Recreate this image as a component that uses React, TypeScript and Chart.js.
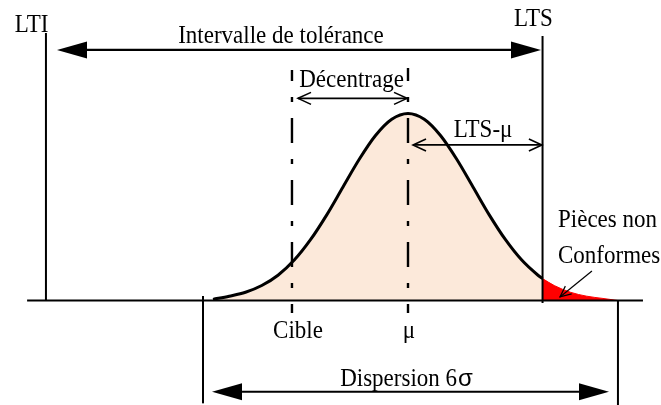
import React, { useEffect, useRef } from "react";
import { Chart, registerables } from "chart.js";
Chart.register(...registerables);

// Normal curve (x in sigma units from the mean, y relative to peak height)
const curveX = [-3.0, -2.75, -2.5, -2.25, -2.0, -1.75, -1.5, -1.25, -1.0, -0.75, -0.5, -0.25, 0, 0.25, 0.5, 0.75, 1.0, 1.25, 1.5, 1.75, 2.0, 2.07];
const curveY = [0.006, 0.023, 0.044, 0.08, 0.135, 0.216, 0.325, 0.458, 0.607, 0.755, 0.882, 0.969, 1.0, 0.969, 0.882, 0.755, 0.607, 0.458, 0.325, 0.216, 0.135, 0.117];
// Non-conforming tail beyond LTS
const tailX = [2.07, 2.25, 2.5, 2.75, 3.0, 3.23];
const tailY = [0.117, 0.08, 0.044, 0.023, 0.011, 0.0];

// Key positions (sigma units)
const LTI = -5.57;
const LTS = 2.07;
const CIBLE = -1.785;
const MU = 0;
const DISP_LEFT = -3.154;
const DISP_RIGHT = 3.23;
const BASE_LEFT = -5.86;
const BASE_RIGHT = 3.615;

// Text labels
const labelTexts = ["LTI", "LTS", "Intervalle de tolérance", "Décentrage", "LTS-μ", "Cible", "μ", "Pièces non", "Conformes"];
const labelX = [-5.79, 1.93, -1.954, -0.869, 1.154, -1.692, 0.015, 2.308, 2.308];
const labelY = [1.436, 1.468, 1.377, 1.142, 0.874, -0.2005, -0.2005, 0.393, 0.2005];
const labelAlign = ["center", "center", "center", "center", "center", "center", "center", "left", "left"];
const dispersionText = "Dispersion 6";
const sigmaText = "σ";

const annotPlugin = {
  id: "annot",
  afterDatasetsDraw(chart: any) {
    const { ctx, scales } = chart;
    const xs = scales.x, ys = scales.y;
    const px = (v: number) => xs.getPixelForValue(v);
    const py = (v: number) => ys.getPixelForValue(v);
    ctx.save();
    ctx.strokeStyle = "#000";
    ctx.fillStyle = "#000";
    ctx.lineCap = "butt";

    const seg = (x1: number, y1: number, x2: number, y2: number, w: number, dash: number[] = [], off = 0) => {
      ctx.save();
      ctx.lineWidth = w;
      ctx.setLineDash(dash);
      ctx.lineDashOffset = off;
      ctx.beginPath();
      ctx.moveTo(px(x1), py(y1));
      ctx.lineTo(px(x2), py(y2));
      ctx.stroke();
      ctx.restore();
    };
    // arrow head at pixel tip, pointing along angle ang (radians)
    const head = (tx: number, ty: number, ang: number, len: number, half: number, filled: boolean, w = 1.5) => {
      const bx = tx - Math.cos(ang) * len, by = ty - Math.sin(ang) * len;
      const nx = -Math.sin(ang) * half, ny = Math.cos(ang) * half;
      ctx.save();
      if (filled) {
        ctx.beginPath();
        ctx.moveTo(tx, ty);
        ctx.lineTo(bx + nx, by + ny);
        ctx.lineTo(bx - nx, by - ny);
        ctx.closePath();
        ctx.fill();
      } else {
        ctx.lineWidth = w;
        ctx.beginPath();
        ctx.moveTo(bx + nx, by + ny);
        ctx.lineTo(tx, ty);
        ctx.lineTo(bx - nx, by - ny);
        ctx.stroke();
      }
      ctx.restore();
    };
    const hArrow = (x1: number, x2: number, yv: number, filled: boolean, w: number, len: number, half: number) => {
      const p1 = px(x1), p2 = px(x2), yy = py(yv);
      ctx.save();
      ctx.lineWidth = w;
      ctx.beginPath();
      ctx.moveTo(filled ? p1 + len : p1, yy);
      ctx.lineTo(filled ? p2 - len : p2, yy);
      ctx.stroke();
      ctx.restore();
      head(p1, yy, Math.PI, len, half, filled, w);
      head(p2, yy, 0, len, half, filled, w);
    };

    // baseline
    seg(BASE_LEFT, 0, BASE_RIGHT, 0, 2.2);
    // LTI / LTS
    seg(LTI, 1.43, LTI, 0, 2);
    seg(LTS, 1.414, LTS, -0.013, 2);
    // Cible and mu dash-dot lines
    seg(CIBLE, 1.233, CIBLE, -0.067, 2.4, [25, 16, 5, 16], 14);
    seg(MU, 1.243, MU, -0.067, 2.4, [25, 16, 5, 16], 12);
    // Dispersion verticals
    seg(DISP_LEFT, 0.024, DISP_LEFT, -0.55, 2);
    seg(DISP_RIGHT, 0, DISP_RIGHT, -0.56, 2);

    // Arrows
    hArrow(-5.40, 2.046, 1.34, true, 2.2, 30, 8.5);
    hArrow(-1.692, -0.015, 1.081, false, 1.6, 13, 6);
    hArrow(0.077, LTS - 0.01, 0.832, false, 1.6, 13, 6);
    hArrow(-3.015, 3.092, -0.488, true, 2.2, 30, 8.5);

    // Pointer to non conforming parts
    const sx1 = px(2.83), sy1 = py(0.158), sx2 = px(2.338), sy2 = py(0.019);
    ctx.save();
    ctx.lineWidth = 1.2;
    ctx.beginPath();
    ctx.moveTo(sx1, sy1);
    ctx.lineTo(sx2, sy2);
    ctx.stroke();
    ctx.restore();
    head(sx2, sy2, Math.atan2(sy2 - sy1, sx2 - sx1), 11, 5, false, 1.2);

    // Texts
    const SIZE = 25, SX = 0.92;
    const text = (s: string, xv: number, yv: number, align: any) => {
      ctx.save();
      ctx.translate(px(xv), py(yv));
      ctx.scale(SX, 1);
      ctx.font = `${SIZE}px "Liberation Serif"`;
      ctx.textAlign = align;
      ctx.textBaseline = "alphabetic";
      ctx.fillText(s, 0, 0);
      ctx.restore();
    };
    labelTexts.forEach((s, i) => text(s, labelX[i], labelY[i], labelAlign[i]));

    // Dispersion 6σ (sigma in sans font)
    ctx.font = `${SIZE}px "Liberation Serif"`;
    const w1 = ctx.measureText(dispersionText).width * SX;
    ctx.font = `24px "Liberation Sans"`;
    const w2 = ctx.measureText(sigmaText).width;
    const cx = px(-0.023), by = py(-0.457);
    const start = cx - (w1 + w2 + 1) / 2;
    ctx.save();
    ctx.translate(start, by);
    ctx.scale(SX, 1);
    ctx.font = `${SIZE}px "Liberation Serif"`;
    ctx.textAlign = "left";
    ctx.fillText(dispersionText, 0, 0);
    ctx.restore();
    ctx.font = `24px "Liberation Sans"`;
    ctx.textAlign = "left";
    ctx.fillText(sigmaText, start + w1 + 1, by);

    ctx.restore();
  },
};

export default function App() {
  const ref = useRef<HTMLCanvasElement | null>(null);
  useEffect(() => {
    if (!ref.current) return;
    const curve = curveX.map((x, i) => ({ x, y: curveY[i] }));
    const tail = tailX.map((x, i) => ({ x, y: tailY[i] }));
    const chart = new Chart(ref.current, {
      type: "line",
      data: {
        datasets: [
          {
            data: curve,
            borderColor: "#000",
            borderWidth: 3,
            fill: false,
            pointRadius: 0,
            cubicInterpolationMode: "monotone",
          },
          {
            data: tail,
            borderColor: "#FF0000",
            borderWidth: 1,
            backgroundColor: "#FF0000",
            fill: "origin",
            pointRadius: 0,
            cubicInterpolationMode: "monotone",
          },
          {
            data: curve,
            borderWidth: 0,
            borderColor: "rgba(0,0,0,0)",
            backgroundColor: "#FCE9DA",
            fill: "origin",
            pointRadius: 0,
            cubicInterpolationMode: "monotone",
          },
        ],
      },
      options: {
        responsive: false,
        animation: false,
        devicePixelRatio: 1,
        events: [],
        layout: { padding: 0 },
        scales: {
          x: { type: "linear", min: -408 / 65, max: 253 / 65, display: false },
          y: { type: "linear", min: -104.5 / 187, max: 300.5 / 187, display: false },
        },
        plugins: { legend: { display: false }, tooltip: { enabled: false } },
      },
      plugins: [annotPlugin],
    } as any);
    return () => chart.destroy();
  }, []);
  return (
    <div style={{ position: "fixed", left: 0, top: 0, width: 661, height: 405, background: "#fff" }}>
      <canvas ref={ref} width={661} height={405} style={{ display: "block" }} />
    </div>
  );
}
